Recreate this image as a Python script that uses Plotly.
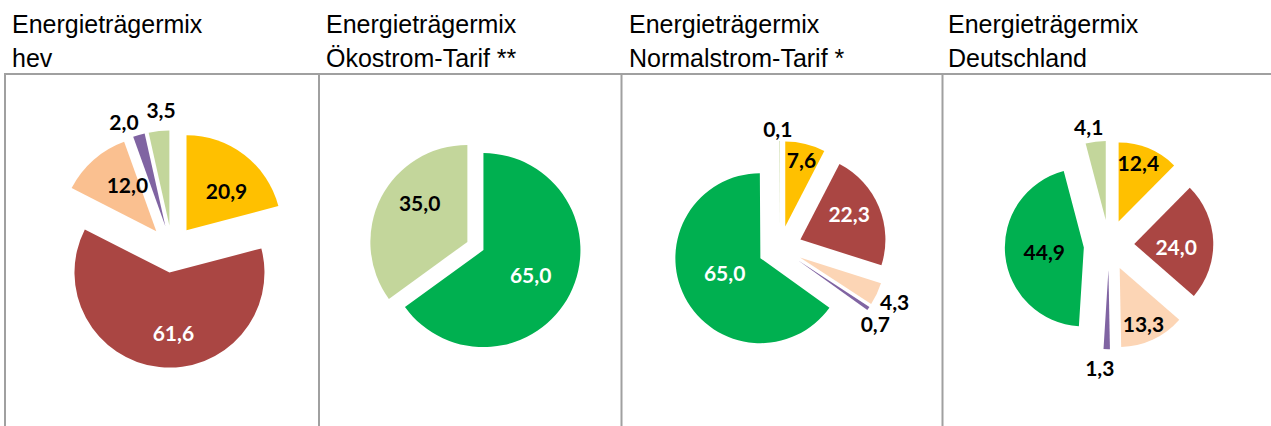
import plotly.graph_objects as go

W, H = 1271, 426

categories = ["Kernkraft", "Kohle", "Erdgas", "Sonstige fossile Energieträger",
              "Erneuerbare Energien (EEG)", "Sonstige erneuerbare Energien"]

title_line1 = ["Energieträgermix"] * 4
title_line2 = ["hev", "Ökostrom-Tarif **", "Normalstrom-Tarif *", "Deutschland"]

values_hev = [20.9, 61.6, 12.0, 2.0, 0.0, 3.5]
values_oeko = [0.0, 0.0, 0.0, 0.0, 65.0, 35.0]
values_normal = [7.6, 22.3, 4.3, 0.7, 65.0, 0.1]
values_de = [12.4, 24.0, 13.3, 1.3, 44.9, 4.1]

colors_a = ["#FFC000", "#AA4643", "#FAC090", "#8064A2", "#00B050", "#C3D69B"]
colors_b = ["#FFC000", "#AA4643", "#FCD5B5", "#8064A2", "#00B050", "#C3D69B"]

FS = 21

# per pie: values, colours, text colour per slice, pull, centre px, radius px.
# "nudge": slices whose value label is drawn by its own transparent pie layer
# (text position, small pixel offset), so labels sit where the original has them
# and plotly does not push outside labels onto leader lines.
pies = [
    dict(values=values_hev, colors=colors_a,
         tcol=["black", "white", "black", "black", "black", "black"],
         pull=0.25, cx=172, cy=249, r=95,
         nudge={0: ("inside", 4, 7), 1: ("inside", 9, 13), 2: ("inside", 17, 5),
                3: ("outside", 6, -2), 5: ("outside", 23, -9)}),
    dict(values=values_oeko, colors=colors_b,
         tcol=["black", "black", "black", "black", "white", "black"],
         pull=0.093, cx=475.4, cy=246, r=97,
         nudge={4: ("inside", 4, 2), 5: ("inside", -2, -16)}),
    dict(values=values_normal, colors=colors_b,
         tcol=["black", "white", "black", "black", "white", "black"],
         pull=0.26, cx=780, cy=248, r=85,
         nudge={1: ("inside", 1, -6), 2: ("outside", -3, 5), 3: ("outside", -14, 11),
                4: ("inside", 2, -5), 5: ("outside", 19, 0)}),
    dict(values=values_de, colors=colors_b,
         tcol=["black", "white", "black", "black", "black", "black"],
         pull=0.32, cx=1109, cy=245, r=79,
         nudge={0: ("inside", -2, -6), 1: ("inside", -5, 4), 2: ("inside", 0, 5),
                3: ("outside", 14, 6), 5: ("outside", 14, -3)}),
]


def fmt(v):
    return f"{v:.1f}".replace(".", ",")


fig = go.Figure()
for p in pies:
    idx = [i for i, v in enumerate(p["values"]) if v > 0]
    vals = [p["values"][i] for i in idx]
    texts = [fmt(v) for v in vals]
    s = p["r"] * (1 + p["pull"])

    def dom(dx=0, dy=0):
        cx, cy = p["cx"] + dx, p["cy"] + dy
        return dict(x=[(cx - s) / W, (cx + s) / W],
                    y=[1 - (cy + s) / H, 1 - (cy - s) / H])

    common = dict(
        labels=[categories[i] for i in idx],
        values=vals,
        textinfo="text",
        insidetextorientation="horizontal",
        sort=False, direction="clockwise", rotation=0,
        pull=p["pull"], showlegend=False,
        textfont=dict(family="Lato", size=FS, weight="bold",
                      color=[p["tcol"][i] for i in idx]),
    )
    fig.add_trace(go.Pie(
        **common,
        domain=dom(),
        text=texts,
        textposition=["none" if i in p["nudge"] else "inside" for i in idx],
        marker=dict(colors=[p["colors"][i] for i in idx], line=dict(width=0)),
        hoverinfo="label+value",
    ))
    for k, (pos, dx, dy) in p["nudge"].items():
        fig.add_trace(go.Pie(
            **common,
            domain=dom(dx, dy),
            text=[t if i == k else "" for t, i in zip(texts, idx)],
            textposition=[pos if i == k else "none" for i in idx],
            marker=dict(colors=["rgba(0,0,0,0)"] * len(idx), line=dict(width=0)),
            hoverinfo="skip",
        ))

title_x = [10, 323.5, 626.5, 945.5]
annotations = []
for i in range(4):
    for line, ymid in ((title_line1[i], 24.4), (title_line2[i], 57.7)):
        annotations.append(dict(
            text=line, x=title_x[i] / W, y=1 - ymid / H, xref="paper", yref="paper",
            xanchor="left", yanchor="middle", showarrow=False,
            font=dict(family="Liberation Sans", size=25, color="black")))

line_col = "#A0A0A0"
shapes = [dict(type="line", xref="paper", yref="paper", x0=4 / W, x1=1,
               y0=1 - 74 / H, y1=1 - 74 / H, line=dict(color=line_col, width=2))]
for vx in [5, 319, 621.5, 942.5]:
    shapes.append(dict(type="line", xref="paper", yref="paper", x0=vx / W, x1=vx / W,
                       y0=1 - 74 / H, y1=0, line=dict(color=line_col, width=2)))

fig.update_layout(
    width=W, height=H,
    margin=dict(l=0, r=0, t=0, b=0, pad=0, autoexpand=False),
    paper_bgcolor="white", plot_bgcolor="white",
    annotations=annotations, shapes=shapes,
    uniformtext=dict(minsize=FS, mode="show"),
)

fig.write_html("out.html", config={"displayModeBar": False},
               post_script="document.body.style.margin='0';")
